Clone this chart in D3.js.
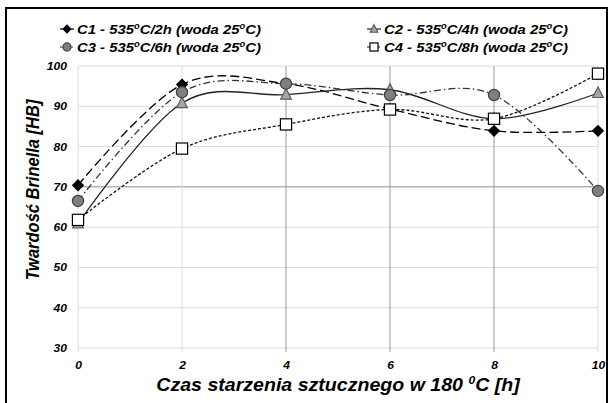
<!DOCTYPE html>
<html>
<head>
<meta charset="utf-8">
<script src="https://cdn.jsdelivr.net/npm/d3@7"></script>
<style>
  html, body { margin: 0; padding: 0; background: #fff; }
  svg { display: block; font-family: "Liberation Sans", Arial, sans-serif; }
</style>
</head>
<body>
<svg id="chart" width="610" height="403"></svg>
<script>
// Ageing time at 180 °C [h]
const hours = [0, 2, 4, 6, 8, 10];

// Brinell hardness [HB] for each solution-treatment variant
const c1Values = [70.4, 95.4, 95.6, 89.3, 83.9, 83.9];
const c2Values = [60.9, 90.8, 92.9, 94.1, 86.9, 93.3];
const c3Values = [66.5, 93.5, 95.6, 92.8, 92.8, 69.0];
const c4Values = [61.8, 79.5, 85.5, 89.2, 86.9, 98.1];

const yTicks = [30, 40, 50, 60, 70, 80, 90, 100];
const xTicks = [0, 2, 4, 6, 8, 10];

const series = [
  { name: "C1", time: "2h", values: c1Values, marker: "diamond",  fill: "#000",    stroke: "#000",    line: "#000", dash: "9,4",        legendDash: null },
  { name: "C2", time: "4h", values: c2Values, marker: "triangle", fill: "#a6a6a6", stroke: "#595959", line: "#222", dash: null,         legendDash: null },
  { name: "C3", time: "6h", values: c3Values, marker: "circle",   fill: "#7f7f7f", stroke: "#404040", line: "#333", dash: "7,3,1.5,3",  legendDash: "3,2" },
  { name: "C4", time: "8h", values: c4Values, marker: "square",   fill: "#fff",    stroke: "#000",    line: "#111", dash: "3,2",        legendDash: "3,2" }
];

// glyphs in this chart are slightly wider than the plain face
const stretch = 1.1;

const svg = d3.select("#chart");

// outer chart frame
svg.append("rect")
  .attr("x", 6).attr("y", 8)
  .attr("width", 601).attr("height", 410)
  .attr("fill", "none").attr("stroke", "#000").attr("stroke-width", 2);

const x = d3.scaleLinear().domain([0, 10]).range([78, 598]);
const y = d3.scaleLinear().domain([30, 100]).range([348, 66]);

// gridlines
const grid = svg.append("g");
grid.selectAll("line.h").data(yTicks).join("line")
  .attr("x1", x(0)).attr("x2", x(10))
  .attr("y1", d => y(d)).attr("y2", d => y(d))
  .attr("stroke", d => d === 70 ? "#8c8c8c" : "#dcdcdc")
  .attr("stroke-width", 1);
grid.selectAll("line.v").data(xTicks).join("line")
  .attr("y1", y(100)).attr("y2", y(30) + 4)
  .attr("x1", d => x(d)).attr("x2", d => x(d))
  .attr("stroke", d => (d === 4 || d === 6 || d === 8) ? "#9a9a9a" : "#dcdcdc")
  .attr("stroke-width", 1);

// axes (labels only)
const yAxis = svg.append("g")
  .attr("transform", `translate(${x(0) - 11},0)`)
  .call(d3.axisLeft(y).tickValues(yTicks).tickSize(0).tickPadding(0));
const xAxis = svg.append("g")
  .attr("transform", `translate(0,${y(30) + 9})`)
  .call(d3.axisBottom(x).tickValues(xTicks).tickSize(0).tickPadding(4));
[yAxis, xAxis].forEach(a => {
  a.select(".domain").remove();
  a.selectAll("text")
    .attr("font-family", "Liberation Sans, Arial, sans-serif")
    .attr("font-size", 11).attr("font-weight", "bold").attr("font-style", "italic")
    .attr("fill", "#000")
    .attr("transform", `scale(${stretch},1)`);
});

// axis titles
svg.append("g")
  .attr("transform", `translate(39,190) scale(${stretch},1) rotate(-90)`)
  .append("text")
  .attr("text-anchor", "middle")
  .attr("font-size", 16.5).attr("font-weight", "bold").attr("font-style", "italic")
  .text("Twardość Brinella [HB]");

const xt = svg.append("g")
  .attr("transform", `translate(${(x(0) + x(10)) / 2},391) scale(${stretch},1)`)
  .append("text")
  .attr("text-anchor", "middle")
  .attr("font-size", 17.8).attr("font-weight", "bold").attr("font-style", "italic");
xt.append("tspan").text("Czas starzenia sztucznego w 180 ");
xt.append("tspan").attr("font-size", 11).attr("dy", -7).text("0");
xt.append("tspan").attr("dy", 7).text("C [h]");

// marker shapes
function drawMarker(g, cx, cy, s, k) {
  let el;
  if (s.marker === "diamond") {
    const r = 5.3 * k;
    el = g.append("path").attr("d", `M${cx},${cy - r}L${cx + r},${cy}L${cx},${cy + r}L${cx - r},${cy}Z`);
  } else if (s.marker === "triangle") {
    const w = 5.3 * k;
    el = g.append("path").attr("d", `M${cx},${cy - 6 * k}L${cx + w},${cy + 4.5 * k}L${cx - w},${cy + 4.5 * k}Z`);
  } else if (s.marker === "circle") {
    el = g.append("circle").attr("cx", cx).attr("cy", cy).attr("r", 5.6 * k);
  } else {
    const h = 5.6 * k;
    el = g.append("rect").attr("x", cx - h).attr("y", cy - h).attr("width", 2 * h).attr("height", 2 * h);
  }
  el.attr("fill", s.fill).attr("stroke", s.stroke).attr("stroke-width", 1.2);
}

// smoothed series lines and markers
const line = d3.line()
  .x((d, i) => x(hours[i]))
  .y(d => y(d))
  .curve(d3.curveCatmullRom.alpha(0));

const plot = svg.append("g");
series.forEach(s => {
  plot.append("path")
    .datum(s.values)
    .attr("d", line)
    .attr("fill", "none")
    .attr("stroke", s.line)
    .attr("stroke-width", 1.3)
    .attr("stroke-dasharray", s.dash);
});
series.forEach(s => {
  const g = plot.append("g");
  s.values.forEach((v, i) => drawMarker(g, x(hours[i]), y(v), s, 1));
});

// legend
const legendPos = [[60, 29], [367, 29], [60, 47], [367, 47]];
series.forEach((s, i) => {
  const [lx, ly] = legendPos[i];
  const g = svg.append("g");
  g.append("line")
    .attr("x1", lx).attr("x2", lx + 14).attr("y1", ly).attr("y2", ly)
    .attr("stroke", s.line).attr("stroke-width", 1.2)
    .attr("stroke-dasharray", s.legendDash);
  drawMarker(g, lx + 7, ly, s, 0.72);
  const t = g.append("g")
    .attr("transform", `translate(${lx + 17},${ly + 5}) scale(${stretch},1)`)
    .append("text")
    .attr("font-size", 13.5).attr("font-weight", "bold").attr("font-style", "italic");
  t.append("tspan").text(`${s.name} - 535`);
  t.append("tspan").attr("font-size", 8.5).attr("dy", -5.5).text("o");
  t.append("tspan").attr("dy", 5.5).text(`C/${s.time} (woda 25`);
  t.append("tspan").attr("font-size", 8.5).attr("dy", -5.5).text("o");
  t.append("tspan").attr("dy", 5.5).text("C)");
});
</script>
</body>
</html>
